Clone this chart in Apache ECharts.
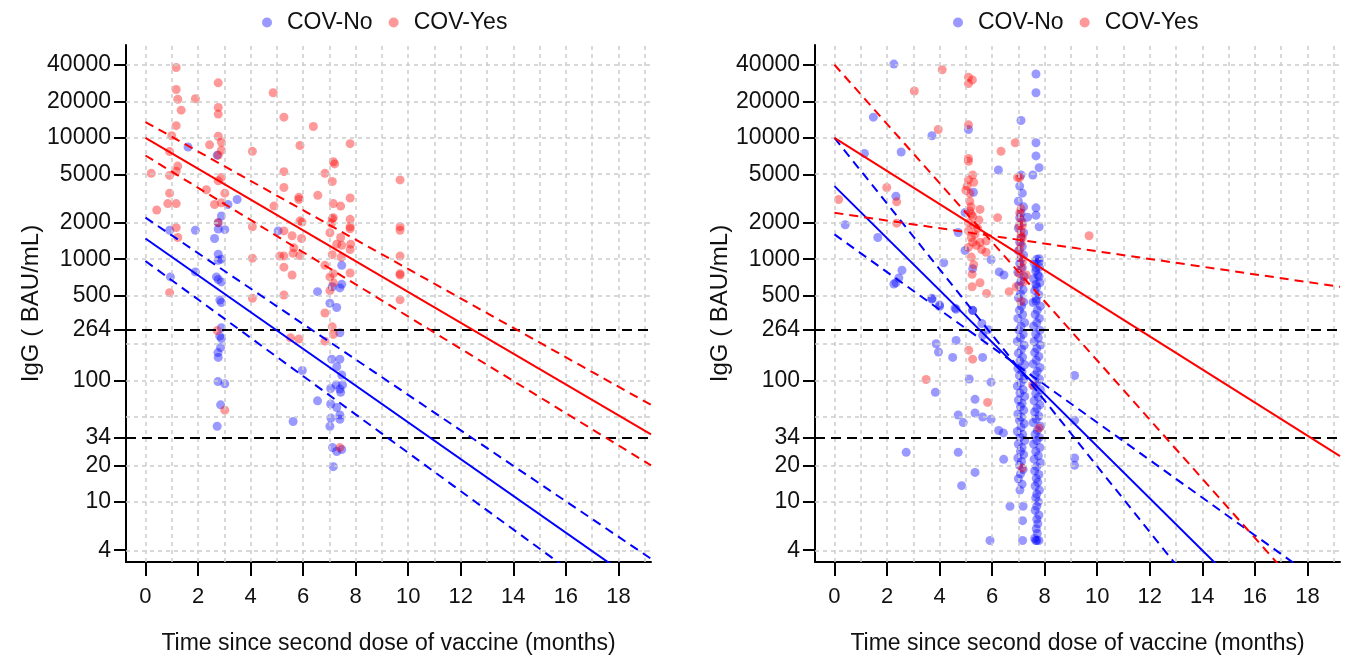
<!DOCTYPE html>
<html><head><meta charset="utf-8">
<script src="https://cdn.jsdelivr.net/npm/echarts@6/dist/echarts.min.js"></script>
<style>html,body{margin:0;padding:0;background:#fff}#c{width:1346px;height:660px}</style>
</head><body><div id="c"></div>
<script>
// ---------- tick / grid values ----------
const yTickValues = [4, 10, 20, 34, 100, 264, 500, 1000, 2000, 5000, 10000, 20000, 40000];
const yGridValues = [4, 10, 20, 50, 100, 200, 500, 1000, 2000, 5000, 10000, 20000, 40000];
const xTickValues = [0, 2, 4, 6, 8, 10, 12, 14, 16, 18];
const xGridValues = [0, 1, 2, 3, 4, 5, 6, 7, 8, 9, 10, 11, 12, 13, 14, 15, 16, 17, 18, 19];
const thresholds = [264, 34];
const seriesNames = ['COV-No', 'COV-Yes'];

// ---------- left panel points [months, IgG] ----------
const leftNo = [
[0.92,1730],[0.95,714],[1.62,8400],[1.90,1730],[1.90,785],
[2.63,1480],[2.70,714],[2.73,7200],[2.73,42],[2.76,170],[2.76,98],[2.77,2000],[2.77,1770],[2.77,1100],[2.77,980],[2.77,680],[2.77,155],[2.83,460],[2.83,232],[2.86,187],[2.86,63],[2.89,2270],[2.89,1000],[2.89,650],[2.89,440],[2.89,272],[2.89,222],[3.02,1750],[3.02,94],[3.14,2820],[3.49,3100],
[5.05,1710],[5.62,46],[5.97,121],[6.55,540],[6.55,68],
[7.02,434],[7.02,42],[7.05,86],[7.05,64],[7.06,49],[7.09,150],[7.11,593],[7.12,28],[7.15,19.5],[7.26,92],[7.28,400],[7.28,130],[7.28,60],[7.28,26],[7.40,580],[7.40,247],[7.40,150],[7.40,85],[7.40,52],[7.40,48],[7.43,80],[7.47,890],[7.47,620],[7.47,111],[7.47,27],[7.50,92]
];
const leftYes = [
[0.22,5100],[0.43,2540],[0.85,2870],[0.92,7700],[0.92,4900],[0.92,3500],[0.92,530],[1.00,10400],[1.17,38000],[1.17,25000],[1.17,12600],[1.17,5300],[1.17,2870],[1.17,1820],[1.23,20800],[1.23,5850],[1.23,1510],[1.36,16900],[1.90,21000],
[2.32,3730],[2.44,8750],[2.63,2820],[2.73,258],[2.77,28400],[2.77,17800],[2.77,15700],[2.77,10300],[2.77,7200],[2.77,4420],[2.77,2000],[2.89,9200],[2.89,7900],[2.89,4700],[2.89,2920],[3.02,3500],[3.02,57],
[4.07,7740],[4.07,1850],[4.07,1020],[4.07,476],[4.86,23500],[4.89,2740],[5.11,1060],[5.27,14800],[5.27,5260],[5.27,3900],[5.27,1710],[5.27,1060],[5.27,860],[5.27,507],[5.52,225],[5.58,1560],[5.58,740],[5.62,1120],[5.65,1240],[5.84,3240],[5.84,3100],[5.84,220],[5.88,8650],[5.88,2070],[5.88,1070],[5.94,1480],[5.96,2020],[6.39,12400],[6.56,3360],
[6.83,5100],[6.83,890],[6.83,360],[6.83,211],[7.02,1650],[7.02,714],[7.02,550],[7.08,1970],[7.11,4370],[7.11,2150],[7.11,1090],[7.11,277],[7.15,6350],[7.15,2870],[7.15,2200],[7.15,760],[7.15,640],[7.15,240],[7.20,6100],[7.28,1330],[7.40,28],[7.43,2740],[7.43,1510],[7.45,1040],[7.47,1300],
[7.79,8950],[7.79,3190],[7.79,2130],[7.79,1850],[7.79,1780],[7.79,1200],[7.79,770],[7.81,1330],
[9.69,4500],[9.69,1850],[9.69,1730],[9.69,1060],[9.69,760],[9.69,740],[9.69,462]
];

// ---------- right panel points [months, IgG] ----------
const rightNo = [
[0.41,1920],[1.14,7420],[1.48,14800],[1.65,1510],[2.26,40500],[2.26,624],[2.34,3300],[2.34,640],[2.45,700],[2.54,7650],[2.57,810],[2.73,25.6],
[3.71,10400],[3.71,476],[3.71,468],[3.84,80],[3.87,201],[3.96,172],[4.00,420],[4.00,407],[4.16,935],[4.50,155],[4.59,395],[4.63,387],[4.63,214],[4.71,1660],[4.71,52],[4.71,25.6],[4.84,13.6],[4.90,45],[4.97,2420],[4.97,1180],
[5.10,11700],[5.13,103],[5.26,835],[5.26,378],[5.26,380],[5.29,3560],[5.35,70],[5.35,54],[5.35,17.5],[5.61,295],[5.64,235],[5.64,155],[5.64,50],[5.85,262],[5.92,4.8],[5.96,990],[5.96,97],[5.96,48],
[6.24,5430],[6.25,38.7],[6.27,785],[6.43,37],[6.44,22.4],[6.45,740],[6.68,9.2],
[7.10,13900],[7.35,2220],[7.55,4940],[7.67,33600],[7.67,23500],[7.67,9100],[7.67,7100],[7.79,5680],[7.67,2650],[7.67,2300],[7.79,1850],[7.79,1010],[7.79,950],[7.67,850],[7.79,720],[7.67,620],[7.67,450],
[9.14,110],[9.14,47],[9.14,23],[9.14,20]
];
const rightNoColumnA = [
[7.10,4940],[7.05,4000],[7.15,3500],[7.00,3000],[7.20,2700],[7.10,2400],[7.05,2200],[7.15,2000],[7.00,1800],[7.20,1650],[7.10,1500],[7.05,1380],[7.15,1270],[7.00,1170],[7.20,1080],[7.10,1000],[7.05,920],[7.15,850],[6.98,780],[7.22,720],[7.10,660],[7.02,610],[7.18,560],[7.08,520],[7.00,480],[7.20,445],[7.12,410],[7.04,380],[7.16,350],[6.98,325],[7.24,300],[7.10,280],[7.02,260],[7.18,240],[7.08,225],[6.96,210],[7.22,195],[7.12,181],[7.00,168],[7.16,156],[7.06,145],[7.24,135],[6.98,126],[7.14,118],[7.04,110],[7.20,103],[7.10,96],[6.96,90],[7.18,84],[7.06,79],[7.24,74],[7.00,69],[7.14,65],[7.08,61],[7.20,57],[6.98,53],[7.12,50],[7.04,47],[7.22,44],[7.10,41],[6.96,38],[7.16,36],[7.06,34],[7.24,32],[7.00,30],[7.14,28],[7.08,26],[7.20,24.5],[6.98,23],[7.12,21.5],[7.04,20],[7.18,18.5],[7.08,17],[7.00,15.5],[7.14,14],[7.06,12.5],[7.18,9.2],[7.16,7.0],[7.16,4.8]
];
const rightNoColumnB = [
[7.70,1000],[7.60,930],[7.80,860],[7.66,800],[7.74,740],[7.58,690],[7.82,640],[7.70,590],[7.62,550],[7.78,510],[7.68,470],[7.56,440],[7.84,410],[7.72,380],[7.64,350],[7.80,325],[7.70,300],[7.58,280],[7.82,260],[7.66,242],[7.76,225],[7.60,210],[7.84,196],[7.70,183],[7.62,170],[7.78,158],[7.68,147],[7.56,137],[7.82,128],[7.72,119],[7.64,111],[7.80,103],[7.70,96],[7.58,90],[7.84,84],[7.66,78],[7.76,73],[7.60,68],[7.82,63],[7.70,59],[7.62,55],[7.78,51],[7.68,48],[7.56,45],[7.84,42],[7.72,39],[7.64,36],[7.80,34],[7.70,32],[7.58,30],[7.82,28],[7.66,26],[7.76,24],[7.60,22.5],[7.84,21],[7.70,19.5],[7.62,18],[7.78,16.8],[7.68,15.6],[7.74,14.5],[7.64,13.5],[7.80,12.5],[7.70,11.6],[7.66,10.8],[7.76,10],[7.70,9.2],[7.64,8.5],[7.78,7.8],[7.70,7.2],[7.74,6.6],[7.68,6.0],[7.72,5.5],[7.62,5.0],[7.70,4.8],[7.78,4.8],[7.66,4.8]
];
const rightYes = [
[0.16,3100],[1.99,3900],[2.37,2970],[2.37,1980],[3.04,24300],[3.49,102],[3.95,11700],[4.10,36400],
[5.10,31600],[5.25,30000],[5.10,28000],[5.10,12800],[5.10,6760],[5.10,6400],[5.26,4940],[5.10,4500],[5.30,4300],[5.05,4000],[5.00,3700],[5.15,3500],[5.15,3000],[5.20,2700],[5.54,2570],[5.15,2500],[5.21,2340],[5.26,2250],[5.50,2100],[5.10,2000],[5.30,1900],[5.45,1800],[5.10,1710],[5.35,1600],[5.21,1510],[5.77,1410],[5.26,1380],[5.54,1380],[5.40,1300],[5.10,1250],[5.60,1200],[5.77,1140],[5.21,1040],[5.30,900],[5.24,750],[5.54,640],[5.24,593],[5.79,522],[5.11,178],[5.26,150],[5.83,66],
[6.21,2200],[6.34,7740],[6.65,540],[6.88,9100],[6.97,4710],[7.05,4700],
[7.03,1880],[7.10,2600],[7.05,2400],[7.10,2100],[7.15,1900],[7.10,1700],[7.10,1550],[7.15,1500],[7.10,1350],[7.05,1200],[7.10,1040],[7.15,950],[7.10,850],[7.03,760],[7.30,740],[7.20,650],[6.92,593],[7.10,450],[7.54,92],[7.79,40.5],[7.14,19],[9.69,1560]
];

// ---------- fitted lines (endpoints) [months, IgG] ----------
const leftFitNo      = [[0,1480],[19.24,1.8]];
const leftUpperNo    = [[0,2200],[19.24,3.4]];
const leftLowerNo    = [[0,965],[19.24,0.88]];
const leftFitYes     = [[0,10000],[19.24,36]];
const leftUpperYes   = [[0,13500],[19.24,63]];
const leftLowerYes   = [[0,7150],[19.24,20]];
const rightFitNo     = [[0,4000],[19.24,0.30]];
const rightSteepNo   = [[0,10000],[19.24,0.062]];
const rightShallowNo = [[0,1600],[19.24,1.67]];
const rightFitYes    = [[0,10000],[19.24,23.8]];
const rightSteepYes  = [[0,40000],[19.24,0.82]];
const rightShallowYes= [[0,2410],[19.24,592]];

// ---------- build chart ----------
const FONT = 'Liberation Sans, Arial, sans-serif';
const BLUE = '#0000ff', RED = '#ff0000';
const lg = v => Math.log10(v);
const toPlot = arr => arr.map(p => [p[0], lg(p[1])]);

const grids = [
  {left:126, top:45, width:525, height:524},
  {left:815, top:45, width:525, height:524}
];
function xAx(i){
  return {
    gridIndex:i, type:'value', min:-0.74, max:19.24,
    name:'Time since second dose of vaccine (months)', nameLocation:'middle', nameGap:70,
    nameTextStyle:{fontFamily:FONT, fontSize:23, color:'#111'},
    axisLine:{onZero:false, lineStyle:{color:'#000', width:2}},
    axisTick:{show:true, length:14, customValues:xTickValues, lineStyle:{color:'#000', width:2}},
    axisLabel:{customValues:xTickValues, margin:24, fontFamily:FONT, fontSize:22, color:'#111'},
    splitLine:{show:false}
  };
}
function yAx(i){
  return {
    gridIndex:i, type:'value', min:0.5045, max:4.765,
    name:'IgG ( BAU/mL)', nameLocation:'middle', nameGap:82,
    nameTextStyle:{fontFamily:FONT, fontSize:24, color:'#111'},
    axisLine:{onZero:false, lineStyle:{color:'#000', width:2}},
    axisTick:{show:true, length:12, customValues:yTickValues.map(lg), lineStyle:{color:'#000', width:2}},
    axisLabel:{customValues:yTickValues.map(lg), margin:15, fontFamily:FONT, fontSize:23, color:'#111',
      formatter:v => String(Math.round(Math.pow(10, v)))},
    splitLine:{show:false}
  };
}
function gridSeries(i){
  return {
    type:'line', xAxisIndex:i, yAxisIndex:i, data:[], silent:true, z:1,
    markLine:{silent:true, symbol:['none','none'], label:{show:false}, animation:false,
      lineStyle:{color:'#cccccc', width:1.5, type:[4,4]},
      emphasis:{disabled:true},
      data: xGridValues.map(x => ({xAxis:x})).concat(yGridValues.map(v => ({yAxis:lg(v)})))}
  };
}
function thresholdSeries(i){
  return {
    type:'line', xAxisIndex:i, yAxisIndex:i, data:[], silent:true, z:6,
    markLine:{silent:true, symbol:['none','none'], label:{show:false}, animation:false,
      lineStyle:{color:'#000', width:2, type:[10,6]},
      emphasis:{disabled:true},
      data: thresholds.map(v => ({yAxis:lg(v)}))}
  };
}
function scatter(i, name, arr, color, z){
  return {type:'scatter', name:name, xAxisIndex:i, yAxisIndex:i, data:toPlot(arr),
    symbol:'circle', symbolSize:9, silent:true, z:z,
    itemStyle:{color:color, borderWidth:0}};
}
function fitLine(i, arr, color, dashed){
  return {type:'line', xAxisIndex:i, yAxisIndex:i, data:toPlot(arr), silent:true, z:7,
    symbol:'none', showSymbol:false, clip:true,
    lineStyle:{color:color, width:2, type: dashed ? [9,6] : 'solid'}};
}
function legend(left){
  return {left:left, top:6, icon:'circle', itemWidth:30, itemHeight:10, itemGap:16,
    selectedMode:false,
    textStyle:{fontFamily:FONT, fontSize:23, color:'#111'},
    data:[{name:'COV-No', itemStyle:{color:'#8080ff'}}, {name:'COV-Yes', itemStyle:{color:'#ff8080'}}]};
}

const option = {
  animation:false,
  backgroundColor:'#fff',
  legend:[legend(257), legend(948)],
  grid:grids,
  xAxis:[xAx(0), xAx(1)],
  yAxis:[yAx(0), yAx(1)],
  series:[
    gridSeries(0), gridSeries(1),
    scatter(0, seriesNames[0], leftNo, 'rgba(0,0,255,0.5)', 3),
    scatter(1, seriesNames[0], rightNo.concat(rightNoColumnA, rightNoColumnB), 'rgba(0,0,255,0.5)', 3),
    scatter(0, seriesNames[1], leftYes, 'rgba(255,0,0,0.5)', 4),
    scatter(1, seriesNames[1], rightYes, 'rgba(255,0,0,0.5)', 4),
    thresholdSeries(0), thresholdSeries(1),
    fitLine(0, leftFitNo, BLUE, false), fitLine(0, leftUpperNo, BLUE, true), fitLine(0, leftLowerNo, BLUE, true),
    fitLine(0, leftFitYes, RED, false), fitLine(0, leftUpperYes, RED, true), fitLine(0, leftLowerYes, RED, true),
    fitLine(1, rightFitNo, BLUE, false), fitLine(1, rightSteepNo, BLUE, true), fitLine(1, rightShallowNo, BLUE, true),
    fitLine(1, rightFitYes, RED, false), fitLine(1, rightSteepYes, RED, true), fitLine(1, rightShallowYes, RED, true)
  ]
};
const chart = echarts.init(document.getElementById('c'), null, {renderer:'canvas'});
chart.setOption(option);
</script>
</body></html>
